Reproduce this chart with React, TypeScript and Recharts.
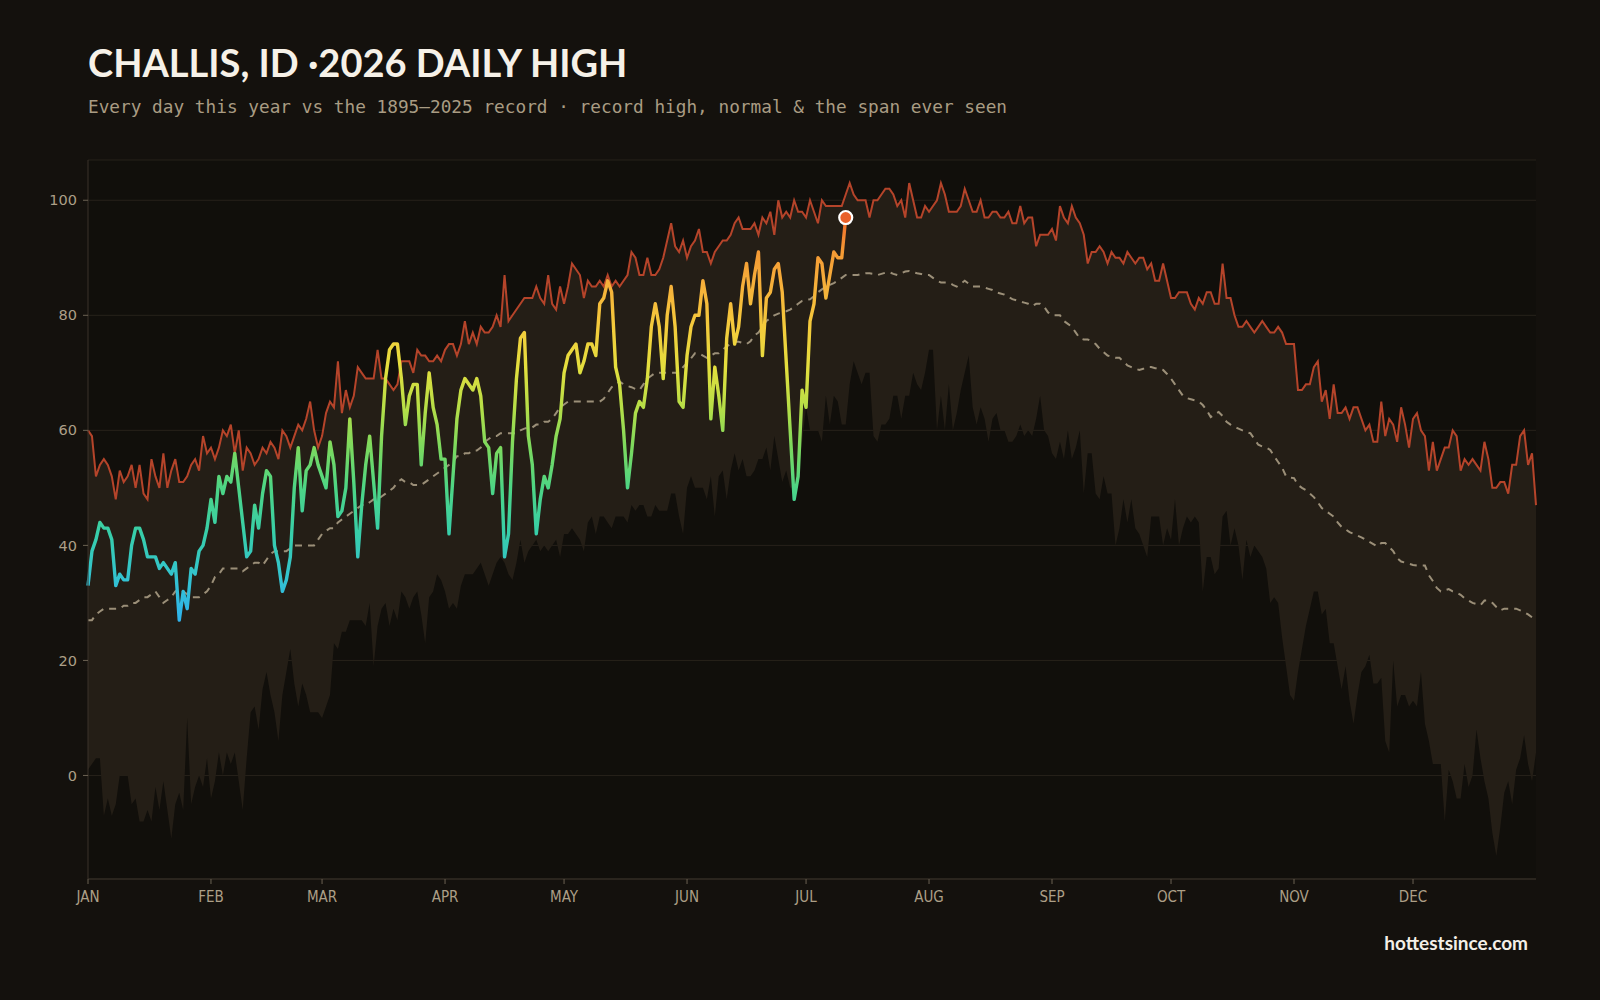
import { ComposedChart, Line, Area, XAxis, YAxis, CartesianGrid, ReferenceDot } from "recharts";

// month ticks (day-of-year of the 1st)
const MONTHS = ["JAN", "FEB", "MAR", "APR", "MAY", "JUN", "JUL", "AUG", "SEP", "OCT", "NOV", "DEC"];
const MONTH_START = [0, 31, 59, 90, 120, 151, 181, 212, 243, 273, 304, 334];
const Y_TICKS = [0, 20, 40, 60, 80, 100];

// 1895–2025 record high per day of year
const recordHigh = [
  60, 59, 52, 54, 55, 54, 52, 48, 53, 51, 52, 54, 50, 54, 49, 48, 55, 52, 50, 56,
  50, 53, 55, 51, 51, 52, 54, 55, 53, 59, 56, 57, 55, 57, 60, 59, 61, 56, 60, 53,
  57, 56, 54, 55, 57, 56, 58, 57, 55, 60, 59, 57, 59, 61, 60, 62, 65, 60, 57, 59,
  63, 65, 64, 72, 63, 67, 64, 66, 71, 70, 69, 69, 69, 74, 69, 69, 68, 67, 68, 72,
  72, 72, 70, 74, 73, 73, 72, 72, 73, 72, 74, 75, 75, 73, 75, 79, 75, 77, 75, 78,
  77, 77, 78, 80, 78, 87, 79, 80, 81, 82, 83, 83, 83, 85, 83, 82, 87, 82, 81, 85,
  82, 85, 89, 88, 87, 83, 86, 85, 85, 86, 85, 87, 85, 86, 85, 86, 87, 91, 90, 87,
  87, 90, 87, 87, 88, 90, 93, 96, 92, 91, 93, 90, 92, 93, 95, 91, 91, 89, 91, 92,
  93, 93, 94, 96, 97, 95, 95, 95, 96, 94, 97, 96, 98, 94, 100, 97, 98, 97, 100, 98,
  98, 97, 100, 98, 96, 100, 99, 99, 99, 99, 99, 101, 103, 101, 100, 100, 100, 97, 100, 100,
  101, 102, 102, 101, 99, 100, 97, 103, 100, 97, 97, 99, 98, 99, 100, 103, 101, 98, 98, 98,
  99, 102, 100, 98, 98, 100, 97, 97, 98, 98, 97, 97, 98, 96, 96, 99, 96, 97, 97, 92,
  94, 94, 94, 95, 93, 99, 97, 96, 99, 97, 96, 94, 89, 91, 91, 92, 91, 89, 91, 90,
  90, 89, 91, 90, 89, 90, 90, 88, 89, 86, 86, 89, 86, 83, 83, 84, 84, 84, 82, 81,
  83, 82, 84, 84, 82, 82, 89, 83, 83, 80, 78, 78, 79, 78, 77, 78, 79, 78, 77, 77,
  78, 77, 75, 75, 75, 67, 67, 68, 68, 71, 72, 65, 67, 62, 68, 63, 63, 64, 62, 64,
  64, 62, 60, 61, 58, 58, 65, 59, 62, 61, 58, 64, 61, 57, 62, 63, 60, 59, 53, 58,
  53, 55, 57, 57, 60, 59, 53, 55, 54, 55, 54, 53, 58, 55, 50, 50, 51, 51, 49, 54,
  54, 59, 60, 54, 56, 47,
];

// 1895–2025 lowest daily high per day of year
const recordLow = [
  1, 2, 3, 3, -7, -4, -7, -5, 0, 0, 0, -5, -4, -8, -8, -6, -8, -2, -6, -1,
  -6, -11, -5, -3, -6, 10, -5, -2, 0, -2, 3, -4, -1, 4, 0, 4, 2, 4, -1, -6,
  3, 11, 12, 8, 15, 18, 14, 11, 6, 14, 18, 22, 16, 12, 16, 14, 11, 11, 11, 10,
  12, 14, 23, 22, 25, 25, 27, 27, 27, 27, 26, 30, 19, 26, 29, 30, 26, 29, 27, 32,
  31, 29, 31, 32, 28, 23, 31, 32, 35, 34, 32, 29, 30, 29, 33, 35, 35, 35, 36, 37,
  35, 33, 35, 37, 38, 37, 35, 34, 37, 41, 37, 39, 40, 41, 39, 40, 39, 40, 41, 38,
  42, 42, 43, 42, 41, 39, 44, 45, 42, 45, 45, 44, 43, 45, 45, 45, 44, 47, 46, 47,
  47, 45, 45, 47, 46, 46, 46, 49, 49, 45, 42, 50, 52, 50, 50, 50, 48, 52, 45, 52,
  53, 48, 53, 56, 53, 55, 52, 52, 53, 55, 55, 57, 53, 59, 55, 51, 53, 50, 50, 52,
  58, 64, 60, 60, 60, 58, 66, 61, 66, 65, 61, 61, 68, 72, 70, 68, 70, 70, 59, 58,
  61, 61, 62, 66, 66, 62, 66, 66, 70, 68, 67, 70, 74, 74, 60, 66, 60, 68, 60, 63,
  67, 70, 73, 64, 61, 64, 62, 58, 62, 63, 60, 60, 58, 58, 59, 61, 59, 60, 59, 62,
  66, 60, 59, 56, 55, 58, 55, 60, 55, 57, 60, 49, 56, 56, 49, 48, 52, 49, 49, 40,
  43, 48, 44, 48, 43, 42, 40, 38, 45, 45, 45, 40, 43, 41, 48, 40, 43, 45, 44, 45,
  44, 32, 38, 38, 35, 36, 45, 46, 40, 43, 40, 34, 41, 38, 40, 39, 38, 36, 30, 31,
  30, 24, 19, 14, 13, 18, 22, 26, 29, 32, 32, 28, 29, 23, 23, 19, 15, 19, 13, 9,
  14, 18, 19, 21, 16, 16, 17, 6, 4, 20, 12, 14, 14, 12, 13, 12, 18, 9, 6, 2,
  2, 2, -8, 1, -1, -4, -4, 2, -2, 0, 8, 3, -1, -4, -10, -14, -9, -3, -1, -5,
  1, 3, 7, 2, -1, 4,
];

// normal daily high
const normal = [
  27, 27, 28, 28.5, 29, 29, 29, 29, 29, 29.5, 29.5, 30, 30, 30.5, 31, 31, 31.5, 32, 31, 30,
  30.5, 31, 32, 32.5, 32, 31.5, 31, 31, 31, 31.5, 32, 33, 34.5, 35, 36, 36, 36, 36, 36, 35.5,
  36, 36.5, 37, 37, 36.5, 37.5, 38.5, 39, 39, 39, 39, 39.5, 40, 40, 40, 40, 40, 40, 41, 42,
  42.5, 43, 43, 44, 44.5, 45, 45.5, 46, 46.5, 47, 47, 47.5, 48, 48, 48.5, 49, 49.5, 50, 51, 51.5,
  51, 51, 50.5, 50.5, 50.5, 51, 51.5, 52, 52.5, 53, 53.5, 54, 54.5, 55.5, 55.5, 56, 56, 56.5, 56.5, 57,
  58, 58.5, 59, 59, 59.5, 59.5, 59.5, 59.5, 59.5, 60, 60.3, 60.5, 60.5, 61, 61, 61.5, 61.5, 62, 63, 64,
  64.5, 65, 65, 65, 65, 65, 65, 65, 65, 65, 65.5, 66.5, 67.5, 68, 68.5, 68, 67.7, 67.5, 67.2, 67,
  68, 69, 69.5, 70, 70, 70, 70, 70, 70, 70, 71, 71.7, 72.5, 73.4, 73.4, 73, 72.6, 73, 73.4, 73.4,
  74, 74.6, 75, 75.4, 75.4, 75.2, 75, 75.5, 76.5, 77, 78, 79, 79.5, 80, 80.3, 80.5, 80.7, 81, 81.5, 82,
  82.5, 82.7, 82.8, 83.3, 84, 84.5, 85, 85.3, 85.6, 86, 86.5, 87, 87, 87, 87, 87.2, 87.3, 87.3, 87.2, 87,
  87.2, 87.4, 87.5, 87.2, 87, 87.3, 87.6, 87.7, 87.5, 87.3, 87.2, 87, 87, 86.5, 86, 85.7, 85.7, 85.7, 85.3, 85,
  85.5, 86, 85.5, 85, 85, 85, 84.8, 84.6, 84.4, 84, 83.8, 83.6, 83.2, 82.8, 82.6, 82.4, 82.2, 82, 81.6, 82,
  82, 81.5, 80.5, 80, 80, 80, 79, 78.5, 78, 77, 76, 75.8, 75.8, 75.5, 75, 74.2, 73.6, 73, 72.8, 72.6,
  72.6, 72, 71.3, 71, 70.7, 70.5, 70.7, 71, 71, 70.8, 70.8, 70.5, 69.8, 69, 68, 67, 66, 65.6, 65.4, 65.2,
  65, 64.4, 63.5, 62.3, 62.8, 63.2, 62.5, 61.5, 61, 60.6, 60.3, 60, 59.7, 59.5, 58.5, 57.5, 57.2, 57, 56.6, 55.5,
  54.5, 53.5, 52, 51.8, 51.7, 50.5, 50, 49.6, 49, 48.4, 47.5, 46.5, 46, 45.5, 45, 44, 43.2, 42.8, 42.3, 42,
  41.7, 41.4, 41, 40.6, 40.2, 39.8, 40.4, 40.4, 39.7, 39, 37.8, 37.2, 37, 36.8, 36.6, 36.5, 36.5, 36.5, 34.8, 33.8,
  32.6, 32, 32.2, 32.4, 32, 31.8, 31.4, 30.8, 30.4, 30, 29.8, 29.6, 30.4, 30.4, 30, 29.3, 28.7, 29, 29, 29,
  29, 28.7, 28.4, 28, 27.5, 27,
];

// 2026 daily high so far
const y2026 = [
  33, 39, 41, 44, 43, 43, 41, 33, 35, 34, 34, 40, 43, 43, 41, 38, 38, 38, 36, 37,
  36, 35, 37, 27, 32, 29, 36, 35, 39, 40, 43, 48, 44, 52, 49, 52, 51, 56, 50, 44,
  38, 39, 47, 43, 49, 53, 52, 40, 37, 32, 34, 38, 50, 57, 46, 53, 54, 57, 54, 52,
  50, 58, 54, 45, 46, 50, 62, 51, 38, 47, 54, 59, 51, 43, 59, 69, 74, 75, 75, 69,
  61, 66, 68, 68, 54, 63, 70, 64, 61, 55, 55, 42, 52, 62, 67, 69, 68, 67, 69, 66,
  58, 57, 49, 56, 57, 38, 42, 58, 69, 76, 77, 59, 54, 42, 48, 52, 50, 54, 59, 62,
  70, 73, 74, 75, 70, 72, 75, 75, 73, 82, 83, 86, 84, 71, 68, 60, 50, 56, 63, 65,
  64, 69, 78, 82, 78, 69, 80, 85, 78, 65, 64, 73, 78, 80, 80, 86, 82, 62, 71, 66,
  60, 76, 82, 75, 78, 85, 89, 82, 87, 91, 73, 83, 84, 88, 89, 84, 72, 60, 48, 52,
  67, 64, 79, 82, 90, 89, 83, 87, 91, 90, 90, 97,
];

// temperature -> colour ramp for the 2026 line
const HEAT: [number, string][] = [
  [27, "#2fb3ec"],
  [34, "#33c2d2"],
  [42, "#37ceaa"],
  [50, "#4dd585"],
  [57, "#7bd95e"],
  [64, "#b6de47"],
  [71, "#e4df3e"],
  [78, "#f4cb3c"],
  [86, "#f6ad3a"],
  [91, "#f59a34"],
  [97, "#ee6a2b"],
];

const BG = "#14110d";
const LABEL = "#ac9f87";

const data = recordHigh.map((hi, day) => ({
  day,
  hi,
  band: [recordLow[day], hi],
  normal: normal[day],
  y2026: day < y2026.length ? y2026[day] : null,
}));

const tMax = Math.max(...y2026);
const tMin = Math.min(...y2026);
const lastDay = y2026.length - 1;

export default function App() {
  return (
    <div style={{ position: "absolute", left: 0, top: 0, width: 1600, height: 1000, background: BG, overflow: "hidden" }}>
      <div style={{
        position: "absolute", left: 88, top: 43, lineHeight: 1,
        fontFamily: "Lato, 'Open Sans', sans-serif", fontWeight: 700, fontSize: 38,
        color: "#f6f1e8", whiteSpace: "nowrap",
      }}>
        CHALLIS, ID ·2026 DAILY HIGH
      </div>
      <div style={{
        position: "absolute", left: 88, top: 99, lineHeight: 1,
        fontFamily: "'DejaVu Sans Mono', monospace", fontSize: 17.75,
        color: "#a99c83", whiteSpace: "nowrap",
      }}>
        Every day this year vs the 1895–2025 record · record high, normal &amp; the span ever seen
      </div>

      <ComposedChart
        width={1600}
        height={1000}
        data={data}
        margin={{ top: 160, right: 64, bottom: 0, left: 0 }}
      >
        <defs>
          <linearGradient id="heat" x1="0" y1="0" x2="0" y2="1">
            {HEAT.slice().reverse().map(([t, c]) => (
              <stop key={t} offset={(tMax - t) / (tMax - tMin)} stopColor={c} />
            ))}
          </linearGradient>
        </defs>
        <CartesianGrid vertical={false} stroke="#27221b" fill="#110f0b" />
        <XAxis
          dataKey="day"
          type="number"
          domain={[0, 365]}
          ticks={MONTH_START}
          interval={0}
          tickFormatter={(d: number) => MONTHS[MONTH_START.indexOf(d)]}
          height={121}
          tickSize={5}
          tickMargin={7}
          axisLine={{ stroke: "#3a332a" }}
          tickLine={{ stroke: "#6b6253" }}
          tick={{ fill: LABEL, fontSize: 15, fontFamily: "'DejaVu Sans Condensed', 'DejaVu Sans', sans-serif" }}
        />
        <XAxis
          xAxisId="top"
          orientation="top"
          dataKey="day"
          type="number"
          domain={[0, 365]}
          height={0}
          tick={false}
          tickLine={false}
          axisLine={{ stroke: "#2e2922" }}
        />
        <YAxis
          domain={[-18, 107]}
          ticks={Y_TICKS}
          interval={0}
          width={88}
          tickSize={5}
          tickMargin={6}
          axisLine={{ stroke: "#3a332a" }}
          tickLine={{ stroke: "#6b6253" }}
          tick={{ fill: LABEL, fontSize: 14.5, fontFamily: "'DejaVu Sans', sans-serif" }}
        />
        <YAxis
          yAxisId="right"
          orientation="right"
          domain={[-18, 107]}
          width={0}
          tick={false}
          tickLine={false}
          axisLine={{ stroke: "#2e2922" }}
        />
        <Area
          dataKey="band"
          type="linear"
          stroke="none"
          fill="#241e16"
          fillOpacity={1}
          isAnimationActive={false}
          activeDot={false}
        />
        <Line
          dataKey="hi"
          type="linear"
          stroke="#b5442a"
          strokeWidth={2}
          dot={false}
          activeDot={false}
          isAnimationActive={false}
        />
        <Line
          dataKey="normal"
          type="linear"
          stroke="#9b8f78"
          strokeWidth={2}
          strokeDasharray="7 6"
          dot={false}
          activeDot={false}
          isAnimationActive={false}
        />
        <Line
          dataKey="y2026"
          type="linear"
          stroke="url(#heat)"
          strokeWidth={3.4}
          strokeLinejoin="round"
          dot={false}
          activeDot={false}
          connectNulls={false}
          isAnimationActive={false}
        />
        <ReferenceDot
          x={lastDay}
          y={y2026[lastDay]}
          r={6.5}
          fill="#e9602a"
          stroke="#ffffff"
          strokeWidth={2.2}
        />
      </ComposedChart>

      <div style={{
        position: "absolute", right: 72, top: 933, lineHeight: 1,
        fontFamily: "Lato, 'Open Sans', sans-serif", fontWeight: 700, fontSize: 19,
        color: "#f3efe7", whiteSpace: "nowrap",
      }}>
        hottestsince.com
      </div>
    </div>
  );
}
